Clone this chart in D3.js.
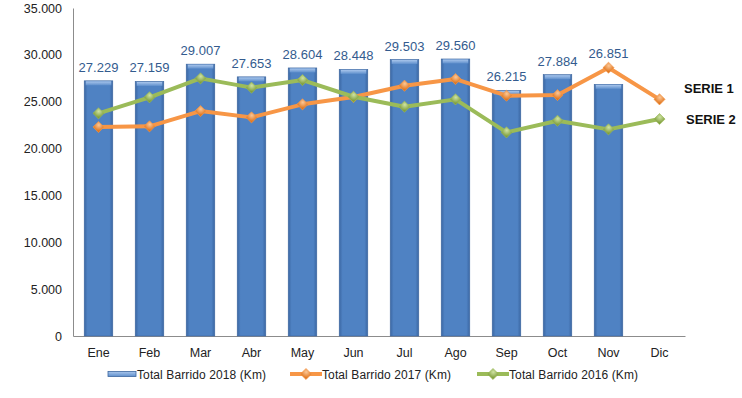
<!DOCTYPE html>
<html>
<head>
<meta charset="utf-8">
<script src="https://cdn.jsdelivr.net/npm/d3@7"></script>
<style>
  body { margin: 0; background: #fff; }
  text { font-family: "Liberation Sans", Arial, sans-serif; }
</style>
</head>
<body>
<svg id="chart"></svg>
<script>
const months = ["Ene", "Feb", "Mar", "Abr", "May", "Jun", "Jul", "Ago", "Sep", "Oct", "Nov", "Dic"];
const barrido2018 = [27229, 27159, 29007, 27653, 28604, 28448, 29503, 29560, 26215, 27884, 26851, null];
const barrido2017 = [22300, 22370, 24000, 23330, 24720, 25500, 26710, 27420, 25640, 25710, 28630, 25250];
const barrido2016 = [23760, 25470, 27490, 26500, 27310, 25530, 24470, 25250, 21730, 22970, 22050, 23150];
const yTicks = [0, 5000, 10000, 15000, 20000, 25000, 30000, 35000];
const legendLabels = ["Total Barrido 2018 (Km)", "Total Barrido 2017 (Km)", "Total Barrido 2016 (Km)"];
const serieLabels = ["SERIE 1", "SERIE 2"];

const width = 742, height = 398;
const plot = { left: 73, right: 685, top: 8, bottom: 336 };

const svg = d3.select("#chart").attr("width", width).attr("height", height);
const defs = svg.append("defs");

// bar gradient (bevel look)
const bg = defs.append("linearGradient").attr("id", "barGrad").attr("x1", 0).attr("x2", 1).attr("y1", 0).attr("y2", 0);
bg.append("stop").attr("offset", "0%").attr("stop-color", "#3b67a3");
bg.append("stop").attr("offset", "12%").attr("stop-color", "#4f82c3");
bg.append("stop").attr("offset", "88%").attr("stop-color", "#4f82c3");
bg.append("stop").attr("offset", "100%").attr("stop-color", "#3b67a3");
const cap = defs.append("linearGradient").attr("id", "capGrad").attr("x1", 0).attr("x2", 0).attr("y1", 0).attr("y2", 1);
cap.append("stop").attr("offset", "0%").attr("stop-color", "#a9c6ec");
cap.append("stop").attr("offset", "100%").attr("stop-color", "#5f8fcc");

function markerGrad(id, light, dark) {
  const g = defs.append("radialGradient").attr("id", id).attr("cx", "35%").attr("cy", "30%").attr("r", "75%");
  g.append("stop").attr("offset", "0%").attr("stop-color", light);
  g.append("stop").attr("offset", "100%").attr("stop-color", dark);
}
markerGrad("orangeMk", "#fcc796", "#e0761f");
markerGrad("greenMk", "#cfe3a3", "#7f9e3c");

const x = d3.scaleBand().domain(months).range([plot.left, plot.right]).paddingInner(0.44).paddingOuter(0.22);
const y = d3.scaleLinear().domain([0, 35000]).range([plot.bottom, plot.top]);
const cx = d => x(d) + x.bandwidth() / 2;

const loc = d3.formatLocale({ decimal: ",", thousands: ".", grouping: [3], currency: ["", ""] });
const fmt = loc.format(",");

// y axis
const yAxis = svg.append("g").attr("transform", `translate(${plot.left},0)`)
  .call(d3.axisLeft(y).tickValues(yTicks).tickSize(0).tickPadding(11).tickFormat(fmt));
yAxis.select(".domain").attr("stroke", "#8c8c8c");
yAxis.selectAll("text").attr("font-size", 12.5).attr("fill", "#222");

// x axis
const xAxis = svg.append("g").attr("transform", `translate(0,${plot.bottom})`)
  .call(d3.axisBottom(x).tickSize(0).tickPadding(12));
xAxis.select(".domain").attr("stroke", "#8c8c8c");
xAxis.selectAll("text").attr("font-size", 12.5).attr("fill", "#222");

// bars
const barData = months.map((m, i) => ({ m, v: barrido2018[i], top: Math.max(barrido2018[i], barrido2017[i], barrido2016[i]) }))
  .filter(d => d.v != null);
const bars = svg.append("g").selectAll("g").data(barData).join("g");
bars.append("rect")
  .attr("x", d => x(d.m)).attr("width", x.bandwidth())
  .attr("y", d => y(d.v)).attr("height", d => plot.bottom - y(d.v))
  .attr("fill", "url(#barGrad)").attr("stroke", "#3c66a0").attr("stroke-width", 0.6);
bars.append("rect")
  .attr("x", d => x(d.m) + 1.5).attr("width", x.bandwidth() - 3)
  .attr("y", d => y(d.v) + 0.5).attr("height", 4)
  .attr("fill", "url(#capGrad)");

// lines
const diamond = d3.symbol().type(d3.symbolSquare).size(62);
function drawSeries(values, color, mk) {
  const pts = months.map((m, i) => ({ m, v: values[i] }));
  const line = d3.line().x(d => cx(d.m)).y(d => y(d.v));
  svg.append("path").datum(pts)
    .attr("fill", "none").attr("stroke", color).attr("stroke-width", 4)
    .attr("stroke-linejoin", "round").attr("d", line);
  svg.append("g").selectAll("path").data(pts).join("path")
    .attr("d", diamond)
    .attr("transform", d => `translate(${cx(d.m)},${y(d.v)}) rotate(45)`)
    .attr("fill", `url(#${mk})`).attr("stroke", color).attr("stroke-width", 0.6);
}
drawSeries(barrido2017, "#f79646", "orangeMk");
drawSeries(barrido2016, "#9bbb59", "greenMk");

// data labels (kept clear of line markers)
svg.append("g").selectAll("text").data(barData).join("text")
  .attr("x", d => cx(d.m)).attr("y", d => y(d.top) - (d.top > d.v ? 10 : 9))
  .attr("text-anchor", "middle").attr("font-size", 13).attr("fill", "#335b8e")
  .text(d => fmt(d.v));

// serie annotations
svg.append("text").attr("x", 684).attr("y", 93).attr("font-size", 13).attr("font-weight", "bold")
  .attr("fill", "#111").text(serieLabels[0]);
svg.append("text").attr("x", 686).attr("y", 124).attr("font-size", 13).attr("font-weight", "bold")
  .attr("fill", "#111").text(serieLabels[1]);

// legend
const ly = 374;
const leg = svg.append("g");
leg.append("rect").attr("x", 108).attr("y", ly - 2.5).attr("width", 28).attr("height", 5)
  .attr("fill", "url(#capGrad)").attr("stroke", "#3c66a0").attr("stroke-width", 0.8);
leg.append("text").attr("x", 137).attr("y", ly + 4.5).attr("font-size", 12).attr("fill", "#222")
  .attr("textLength", 129).text(legendLabels[0]);

[[290, "#f79646", "orangeMk", legendLabels[1]], [477, "#9bbb59", "greenMk", legendLabels[2]]].forEach(([lx, col, mk, lab]) => {
  leg.append("line").attr("x1", lx).attr("x2", lx + 32).attr("y1", ly).attr("y2", ly)
    .attr("stroke", col).attr("stroke-width", 4);
  leg.append("path").attr("d", diamond).attr("transform", `translate(${lx + 16},${ly}) rotate(45)`)
    .attr("fill", `url(#${mk})`).attr("stroke", col).attr("stroke-width", 0.6);
  leg.append("text").attr("x", lx + 32).attr("y", ly + 4.5).attr("font-size", 12).attr("fill", "#222")
    .attr("textLength", 129).text(lab);
});
</script>
</body>
</html>
